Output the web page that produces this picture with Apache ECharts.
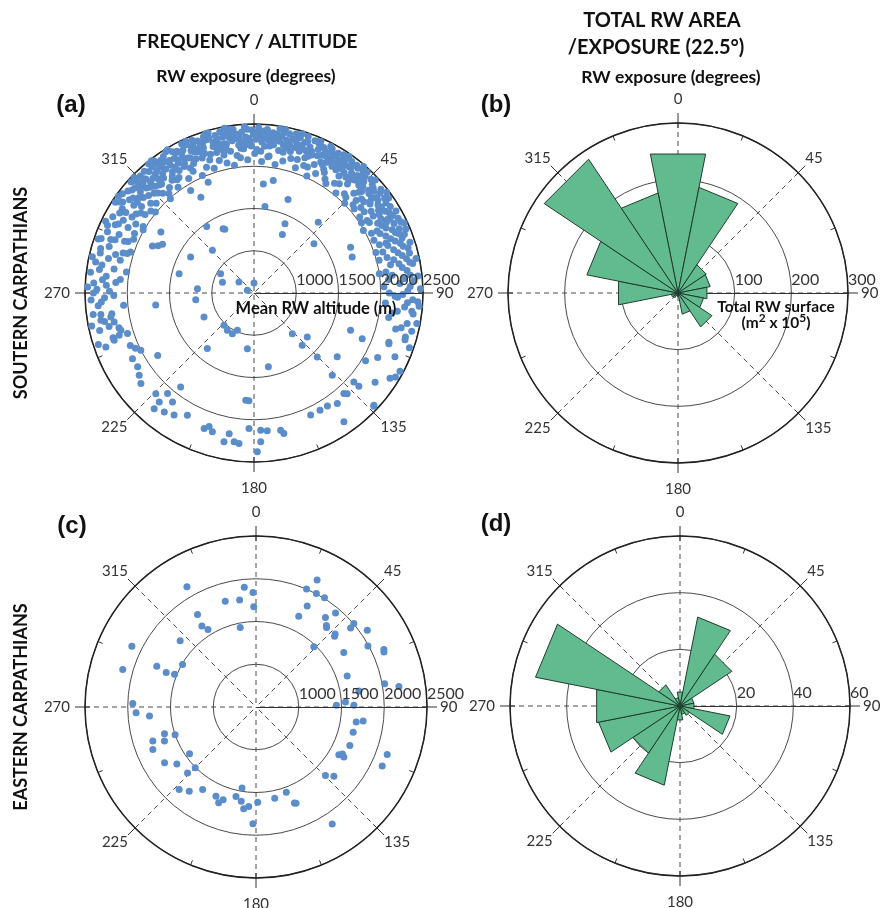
<!DOCTYPE html>
<html>
<head>
<meta charset="utf-8">
<script src="https://cdn.jsdelivr.net/npm/echarts@6/dist/echarts.min.js"></script>
<style>
  html, body { margin: 0; padding: 0; background: #ffffff; }
  #chart { width: 882px; height: 908px; }
</style>
</head>
<body>
<div id="chart"></div>
<script>
// ---------------------------------------------------------------
// Rock-wall (RW) data: exposure (degrees) and mean altitude (m)
// ---------------------------------------------------------------

// Compass directions that carry a label on every rose
const compassTicks = [0, 45, 90, 135, 180, 225, 270, 315];

// Radial scales
const altitudeTicks = [500, 1000, 1500, 2000, 2500];
const southAreaTicks = [0, 100, 200, 300];
const eastAreaTicks = [0, 20, 40, 60];

// Southern Carpathians: individual rock walls [exposure deg, mean altitude m]
const southBandPoints = [
  [290.5,2310],[291.8,2150],[289.6,2420],
  [293.4,2240],[292.7,2380],[294.1,2060],
  [296.2,2330],[297.5,2180],[295.8,2450],
  [299.1,2270],[298.4,2400],[300.3,2120],[299.7,2010],
  [302.6,2350],[301.9,2200],[303.2,2460],[302.1,2290],
  [305.3,2140],[304.7,2390],[306.1,2260],[305.5,2470],
  [308.2,2320],[307.6,2180],[309.0,2420],[308.5,2060],[307.9,2250],
  [311.4,2380],[310.8,2230],[312.1,2460],[311.0,2120],[311.7,2300],
  [314.3,2280],[313.6,2410],[315.0,2170],[314.8,2350],[313.9,2470],
  [317.2,2220],[316.5,2360],[318.0,2440],[317.6,2100],[316.9,2290],
  [320.4,2330],[319.7,2190],[321.1,2420],[320.0,2260],[320.8,2470],[319.5,2050],
  [323.3,2400],[322.6,2280],[324.0,2150],[323.7,2350],[322.9,2460],
  [326.1,2230],[325.5,2380],[326.8,2310],[326.4,2440],[325.8,2120],
  [329.3,2350],[328.6,2200],[330.0,2430],[329.7,2280],[328.9,2480],
  [332.2,2300],[331.5,2410],[333.0,2160],[332.6,2360],[331.8,2240],
  [335.4,2430],[334.7,2270],[336.1,2340],[335.0,2190],[335.8,2470],
  [338.3,2330],[337.6,2400],[339.0,2210],[338.7,2290],[337.9,2450],
  [341.2,2380],[340.5,2250],[342.0,2440],[341.6,2160],[340.8,2320],
  [344.4,2300],[343.7,2410],[345.1,2220],[344.0,2470],[344.8,2350],
  [347.3,2240],[346.6,2380],[348.0,2450],[347.7,2170],[346.9,2310],
  [350.2,2420],[349.5,2290],[351.0,2360],[350.6,2200],[349.8,2480],
  [353.4,2340],[352.7,2450],[354.1,2260],[353.0,2140],[353.8,2390],
  [356.3,2280],[355.6,2410],[357.0,2350],[356.7,2470],[355.9,2210],
  [359.2,2430],[358.5,2300],[359.8,2380],[358.9,2240],
  [2.3,2360],[1.6,2460],[3.0,2290],[2.7,2180],[1.9,2410],
  [5.4,2320],[4.7,2440],[6.1,2250],[5.0,2380],[5.8,2120],
  [8.2,2400],[7.5,2270],[9.0,2470],[8.6,2340],
  [11.3,2280],[10.6,2430],[12.0,2350],[11.7,2200],[10.9,2470],
  [14.1,2380],[13.5,2300],[14.9,2450],[14.4,2230],
  [17.3,2330],[16.6,2420],[18.0,2160],[17.7,2260],[16.9,2470],
  [20.2,2290],[19.5,2400],[21.0,2350],[20.6,2210],
  [23.4,2430],[22.7,2270],[24.1,2360],[23.0,2120],[23.8,2460],
  [26.3,2320],[25.6,2410],[27.0,2240],[26.7,2380],
  [29.1,2270],[28.5,2440],[29.9,2340],[29.4,2180],[28.8,2400],
  [32.3,2370],[31.6,2260],[33.0,2450],[32.7,2310],[31.9,2090],
  [35.2,2300],[34.5,2420],[36.0,2210],[35.6,2360],[34.8,2470],
  [38.4,2250],[37.7,2390],[39.1,2330],[38.0,2140],[38.8,2440],
  [41.3,2350],[40.6,2200],[42.0,2430],[41.7,2290],[40.9,2480],
  [44.2,2280],[43.5,2410],[45.0,2170],[44.6,2350],[43.8,2070],
  [47.4,2400],[46.7,2250],[48.1,2320],[47.0,2460],[47.8,2130],
  [50.3,2190],[49.6,2360],[51.0,2290],[50.7,2440],[49.9,2050],
  [53.2,2330],[52.5,2230],[54.0,2410],[53.6,2120],[52.8,2470],
  [56.4,2270],[55.7,2390],[57.1,2180],[56.0,2320],[56.8,2020],
  [59.3,2360],[58.6,2100],[60.0,2440],[59.7,2240],
  [62.2,2210],[61.5,2330],[63.0,2060],[62.6,2420],[61.8,2280],
  [65.4,2300],[64.7,2150],[66.1,2380],[65.0,2460],
  [68.3,2240],[67.6,2350],[69.0,2090],[68.7,2410],
  [71.2,2330],[70.5,2180],[72.0,2440],[71.6,2020],
  [74.4,2270],[73.7,2400],[75.1,2130],
  [77.3,2350],[76.6,2200],[78.0,2460],
  [80.2,2280],[79.5,2410],[81.0,2080]
];

const southBandPointsInfill = [
  [291.0,2260],[294.8,2410],[297.0,2300],[300.8,2350],[303.8,2180],[304.2,2410],
  [306.8,2340],[307.0,2450],[309.6,2270],[310.2,2390],[312.8,2200],[313.0,2340],
  [315.6,2250],[315.8,2430],[316.0,2380],[318.6,2310],[318.8,2200],[319.2,2400],
  [321.6,2350],[321.8,2230],[322.2,2480],[324.6,2300],[324.8,2420],[325.1,2190],
  [327.4,2360],[327.8,2260],[328.0,2470],[330.6,2310],[330.8,2400],[331.1,2210],
  [333.6,2390],[333.8,2280],[334.1,2460],[336.6,2230],[336.8,2380],[337.2,2310],
  [339.6,2420],[339.8,2350],[340.1,2270],[342.6,2220],[342.8,2400],[343.1,2470],
  [345.6,2330],[345.8,2260],[346.1,2420],[348.6,2380],[348.8,2300],[349.1,2230],
  [351.6,2460],[351.8,2320],[352.1,2400],[354.6,2360],[354.8,2220],[355.1,2300],
  [357.6,2440],[357.8,2260],[358.1,2330],[0.6,2400],[0.8,2320],[1.1,2200],
  [3.6,2420],[3.8,2340],[4.1,2240],[6.6,2290],[6.8,2410],[7.1,2360],
  [9.6,2320],[9.8,2210],[10.1,2390],[12.6,2430],[12.8,2260],[13.1,2330],
  [15.6,2360],[15.8,2290],[16.1,2420],[18.6,2380],[18.8,2300],[19.1,2460],
  [21.6,2240],[21.8,2440],[22.1,2310],[24.6,2400],[24.8,2290],[25.1,2180],
  [27.6,2460],[27.8,2330],[28.1,2220],[30.6,2390],[30.8,2300],[31.1,2430],
  [33.6,2250],[33.8,2400],[34.1,2330],[36.6,2440],[36.8,2280],[37.1,2370],
  [39.6,2300],[39.8,2420],[40.1,2240],[42.6,2380],[42.8,2310],[43.1,2460],
  [45.6,2300],[45.8,2430],[46.1,2220],[48.6,2380],[48.8,2190],[49.1,2300],
  [51.6,2400],[51.8,2250],[52.1,2340],[54.6,2300],[54.8,2450],[55.1,2190],
  [57.6,2410],[57.8,2250],[58.1,2330],[60.6,2180],[60.8,2380],[61.1,2300],
  [63.6,2350],[63.8,2240],[64.1,2430],[66.6,2200],[66.8,2320],[67.1,2450],
  [69.6,2370],[69.8,2280],[72.6,2350],[72.8,2230],[75.6,2400],[75.8,2310],
  [78.6,2250],[78.8,2380],[81.6,2330],[84.6,2280],[87.6,2350],[90.6,2260],
  [93.6,2320],[96.6,2380]
];

// inner fringe of the high band, just around the 2000 m ring
const southBandInnerPoints = [
  [296.5,2080],[301.0,2030],[305.8,2090],[309.4,2010],[312.5,2070],[316.2,2140],
  [318.4,1990],[321.3,2100],[324.3,2040],[327.0,2130],[330.3,2060],[333.4,2110],
  [336.3,2020],[339.3,2090],[342.3,2050],[345.3,2120],[348.3,2070],[351.3,2030],
  [354.3,2110],[357.3,2080],[0.3,2150],[3.3,2060],[6.3,2130],[9.3,2040],
  [12.3,2100],[15.3,2150],[18.3,2060],[21.3,2120],[24.3,2020],[27.3,2090],
  [30.3,2150],[33.3,2050],[36.3,2110],[39.3,2030],[42.3,2090],[45.3,2010],
  [48.3,2070],[51.3,2120],[54.3,2040],[57.3,2090],[60.3,1990],[63.3,2130],
  [66.3,2050],[69.3,2170],[72.3,2100],[75.3,2030],[78.3,2150],[81.3,2000],
  [84.3,2100],[87.3,2040],[91.3,2170],[94.3,2060],[97.3,2210],[100.3,2120],
  [103.3,2290],[275.8,2090],[279.3,2030],[283.8,2130],[287.3,2070],[292.3,2110]
];

const southEastFlankPoints = [
  [83.4,2360],[82.7,2150],[84.1,2450],[86.3,2230],[85.6,2400],
  [89.2,2320],[88.5,2470],[90.0,2100],[92.4,2380],[91.7,2200],[93.1,2440],
  [95.3,2290],[94.6,2460],[98.2,2150],[97.5,2400],[100.6,2460],
  [104.3,2230],[103.6,2420],[107.2,2370],[110.1,2200],[109.4,2450],
  [114.3,2330],[118.2,2460],[117.5,2150],[122.1,2400],[126.4,2280]
];

const southWestFlankPoints = [
  [252.4,2250],[251.7,2440],[256.3,2380],[255.6,2150],[259.2,2300],[258.5,2460],
  [262.4,2420],[261.7,2200],[265.3,2350],[264.6,2050],
  [268.2,2270],[267.5,2430],[269.0,2160],[271.4,2360],[270.7,2210],[272.1,2470],
  [274.3,2140],[273.6,2400],[275.0,2300],[277.2,2450],[276.5,2260],
  [280.4,2330],[279.7,2180],[281.1,2410],[283.3,2270],[282.6,2460],
  [286.2,2390],[285.5,2200],[287.0,2120],[289.1,2450],[288.4,2040],
  [266.6,2310],[270.0,2400],[273.0,2250],[278.6,2350],[284.6,2380],
  [287.8,2300],[262.0,2330],[257.0,2260]
];

const southSouthFacingPoints = [
  [247,2090],[245,2048],[241.6,2135],[237.6,2131],[234.4,2171],[231.3,2215],
  [224.3,2164],[221,2209],[220.7,2069],[216.8,2110],[218,1910],[220.8,2308],
  [217,2264],[213.2,2227],[208.6,2147],[200.2,2209],[198.6,2166],[196.7,2214],
  [191.4,2297],[187.6,2277],[190,2190],[182.1,2105],[177.2,2125],[174.5,2139],
  [169,2154],[168,2199],[177.4,2262],[178.8,2379],[185.7,2289],[155.1,2093],
  [150.6,2091],[147,2095],[143,2138],[145.1,2359],[133.4,2451],[138.2,2096],
  [133.1,2443],[120.7,2447],[110.6,2205],[106.2,2366],[101.3,2348],[121.3,2045],
  [131.6,2160],[131.7,2083],[137.2,2123],
  [252.2,2072],[254.4,2136],[258.3,2190],[259.9,2340],[260.5,2218],[252.6,2172],
  [250,2366],[251.3,2247],[243.2,2001]
];

const southLowPoints = [
  [4.9,1796],[9.7,1851],[20,1678],[7.2,1532],[25.9,1268],[24.1,1398],[42.2,1632],
  [50.6,1418],[64.6,1765],[69.9,1737],[337.5,1919],[328.3,1926],[331,1797],
  [334.3,1343],[335.4,1331],[324.6,1466],[303.2,1817],[294.8,1824],[296.2,1765],
  [298,1726],[299.6,1363],[315.7,1205],[300.1,957],[289,895],[306,720],[0,618],
  [292,585],[284.5,1415],[274.4,1171],[263,1672],[263.5,1194],[244.4,1156],
  [223,1021],[215.5,1043],[204,983],[208,1045],[220,1359],[186.8,1163],[169,1390],
  [184.4,1773],[182.7,1777],[237,1859],[136.7,1161],[137.3,1342],[129.5,1317],
  [135.3,1564],[136.4,1843],[111.1,1725],[112.9,1890],[127.5,1741]
];

// Eastern Carpathians: individual rock walls [exposure deg, mean altitude m]
const eastPoints = [
  [330.1,2121],[354.4,1906],[358.5,1840],[343.8,1789],[351.3,1765],[358.7,1672],
  [327.7,1780],[326.3,1640],[328.2,1566],[348.8,1449],[311.1,1677],[296.1,2117],
  [285.7,2119],[292.3,1754],[291,1625],[291.9,1527],[300,1492],[271.6,1942],
  [267.3,1904],[265.2,1750],[251.7,1771],[247.6,1805],[253.7,1615],[249.6,1642],
  [251.1,1500],[238.6,1753],[234.3,1640],[234.9,1450],[225,1505],[226,1613],
  [223,1818],[218.4,1757],[212.9,1649],[204.2,1643],[201.3,1703],[199.5,1652],
  [192.6,1573],[189.8,1460],[188.9,1615],[186.9,1700],[184.2,1667],[179,1613],
  [181.5,1867],[168.4,1589],[160.4,1557],[158.2,1708],[157.4,1718],[134.6,1641],
  [131.6,1718],[146.9,2132],[120,1619],[119.7,1683],[118.5,1650],[112.3,1686],
  [104.5,1674],[98.5,1685],[97.5,1764],[115.1,2130],[109.9,2132],[88.8,1441],
  [86.8,1548],[89,1645],[81.1,1718],[79.7,2029],[81.8,2189],[71.2,1626],
  [58.2,1708],[48,1736],[47.3,1760],[43.9,1476],[50.1,1942],[49.5,2004],
  [55.4,2081],[61.4,1991],[66.7,2129],[65.8,2140],[40.2,1941],[37.8,1825],
  [41.6,1743],[40.8,1760],[25.2,1674],[26.9,1823],[23.2,2000],[25.7,2148],
  [28,2004],[32.1,2008]
];

// Total rock-wall surface per 22.5 degree exposure class (m2 x 10^5)
const sectorCenters = [0, 22.5, 45, 67.5, 90, 112.5, 135, 157.5, 180, 202.5, 225, 247.5, 270, 292.5, 315, 337.5];
const southArea = [250, 190, 60, 58, 52, 46, 72, 38, 6, 5, 10, 12, 107, 164, 284, 180];
const eastArea  = [5, 32, 22, 5, 5, 18, 4, 3, 5, 28.5, 20, 29.3, 30, 52, 9, 3];

// ---------------------------------------------------------------
// Drawing
// ---------------------------------------------------------------
const FONT = 'Lato, "Open Sans", "DejaVu Sans", sans-serif';
const DOT = '#5b8dcb';
const WEDGE_FILL = '#62bb8e';
const WEDGE_EDGE = '#1e3d2d';

// scaleOnTop: the altitude scale is written over the scatter dots
const panels = [
  { cx: 254, cy: 293, r: 169, ticks: altitudeTicks, scaleOnTop: true },
  { cx: 678, cy: 293, r: 170, ticks: southAreaTicks, scaleOnTop: false },
  { cx: 256, cy: 707, r: 171, ticks: altitudeTicks, scaleOnTop: true },
  { cx: 680, cy: 706, r: 170, ticks: eastAreaTicks, scaleOnTop: false }
];

const labelBase = { fontFamily: FONT, fontSize: 15, color: '#333' };
const compassRich = {
  n: Object.assign({ padding: [0, 0, 6, 0] }, labelBase),
  s: Object.assign({ padding: [9, 0, 0, 0] }, labelBase),
  e: Object.assign({ padding: [0, 0, 0, 3] }, labelBase),
  w: Object.assign({ padding: [0, 5, 0, 0] }, labelBase),
  d: Object.assign({}, labelBase)
};
function compassLabel(v) {
  const key = { 0: 'n', 90: 'e', 180: 's', 270: 'w' }[v] || 'd';
  return '{' + key + '|' + v + '}';
}

const polar = [], angleAxis = [], radiusAxis = [];
panels.forEach(function (p, k) {
  const main = 2 * k, aux = 2 * k + 1;
  const rMin = p.ticks[0], rMax = p.ticks[p.ticks.length - 1];
  const rStep = p.ticks[1] - p.ticks[0];
  const cStep = compassTicks[1] - compassTicks[0];

  polar.push({ center: [p.cx, p.cy], radius: p.r });
  polar.push({ center: [p.cx, p.cy], radius: p.r });

  // main frame: outer circle, dashed compass lines, labelled directions
  angleAxis.push({
    polarIndex: main, type: 'value', min: 0, max: 360, interval: cStep,
    startAngle: 90, clockwise: true,
    axisLine: { show: true, lineStyle: { color: '#222', width: 1.5 } },
    axisTick: { show: true, inside: false, length: 10, lineStyle: { color: '#333', width: 1 } },
    axisLabel: { show: true, margin: 10, formatter: compassLabel, rich: compassRich },
    splitLine: { show: true, lineStyle: { color: '#4a4a4a', width: 1, type: [5, 4] } },
    splitArea: { show: false }
  });
  radiusAxis.push({
    polarIndex: main, type: 'value', min: rMin, max: rMax, interval: rStep,
    axisLine: { show: false }, axisTick: { show: false }, axisLabel: { show: false },
    splitLine: { show: true, lineStyle: { color: '#4a4a4a', width: 1 } },
    splitArea: { show: false }
  });

  // secondary frame: short inner ticks every half class and the eastward scale line
  angleAxis.push({
    polarIndex: aux, type: 'value', min: 0, max: 360, interval: cStep / 2,
    startAngle: 0, clockwise: true,
    axisLine: { show: false },
    axisTick: { show: true, inside: true, length: 5, lineStyle: { color: '#333', width: 1 } },
    axisLabel: { show: false },
    splitLine: { show: false }, splitArea: { show: false }
  });
  radiusAxis.push({
    polarIndex: aux, type: 'value', min: rMin, max: rMax, interval: rStep,
    z: p.scaleOnTop ? 5 : 0,
    axisLine: { show: true, lineStyle: { color: '#333', width: 1 } },
    axisTick: { show: false },
    axisLabel: {
      show: true, showMinLabel: false, align: 'left', margin: 5,
      fontFamily: FONT, fontSize: 16, color: '#333',
      formatter: function (v) { return String(v); }
    },
    splitLine: { show: false }, splitArea: { show: false }
  });
});

function toPolar(list) {
  return list.map(function (d) { return [d[1], d[0]]; });
}
const southPoints = [].concat(southBandPoints, southBandPointsInfill, southBandInnerPoints,
                              southEastFlankPoints, southWestFlankPoints,
                              southSouthFacingPoints, southLowPoints);

const halfClass = (sectorCenters[1] - sectorCenters[0]) / 2;
function wedgeItem(params, api) {
  const v = api.value(0), a = api.value(1);
  const o = api.coord([0, a]);
  const p1 = api.coord([v, a - halfClass]);
  const p2 = api.coord([v, a + halfClass]);
  return {
    type: 'polygon',
    shape: { points: [o, p1, p2] },
    style: { fill: WEDGE_FILL, stroke: WEDGE_EDGE, lineWidth: 1 }
  };
}
function roseData(values) {
  return values.map(function (v, i) { return [v, sectorCenters[i]]; });
}

const series = [
  {
    type: 'scatter', coordinateSystem: 'polar', polarIndex: 0,
    symbol: 'circle', symbolSize: 7, itemStyle: { color: DOT, opacity: 1 },
    data: toPolar(southPoints), silent: true, animation: false
  },
  {
    type: 'custom', coordinateSystem: 'polar', polarIndex: 2,
    renderItem: wedgeItem, data: roseData(southArea), silent: true, animation: false
  },
  {
    type: 'scatter', coordinateSystem: 'polar', polarIndex: 4,
    symbol: 'circle', symbolSize: 7, itemStyle: { color: DOT, opacity: 1 },
    data: toPolar(eastPoints), silent: true, animation: false
  },
  {
    type: 'custom', coordinateSystem: 'polar', polarIndex: 6,
    renderItem: wedgeItem, data: roseData(eastArea), silent: true, animation: false
  }
];

function caption(text, x, y, size, opts) {
  opts = opts || {};
  return {
    type: 'text', x: x, y: y, rotation: opts.rotation || 0, z: 100,
    style: {
      text: text,
      fontFamily: opts.family || FONT, fontSize: size,
      fontWeight: opts.weight || 'bold',
      fill: opts.color || '#111',
      align: 'center', verticalAlign: 'middle',
      textAlign: 'center', textVerticalAlign: 'middle',
      rich: opts.rich
    }
  };
}

const LETTER_FONT = '"Liberation Sans", Arial, sans-serif';
const graphic = [
  caption('FREQUENCY / ALTITUDE', 247, 42, 19),
  caption('RW exposure (degrees)', 246, 76, 17.5),
  caption('TOTAL RW AREA', 662, 21, 20),
  caption('/EXPOSURE (22.5\u00B0)', 656, 48, 20),
  caption('RW exposure (degrees)', 671, 77, 17.5),
  caption('(a)', 71, 105, 24, { family: LETTER_FONT }),
  caption('(b)', 496, 105, 24, { family: LETTER_FONT }),
  caption('(c)', 72, 526, 24, { family: LETTER_FONT }),
  caption('(d)', 496, 524, 24, { family: LETTER_FONT }),
  caption('SOUTERN CARPATHIANS', 21, 293, 18, { rotation: Math.PI / 2 }),
  caption('EASTERN CARPATHIANS', 21, 707, 18, { rotation: Math.PI / 2 }),
  caption('Mean RW altitude (m)', 316, 309, 16.5),
  caption('Total RW surface', 776, 307, 15.5),
  caption('{t|(m}{s|2}{t| x 10}{s|5}{t|)}', 776, 323, 15.5, {
    rich: {
      t: { fontFamily: FONT, fontSize: 15.5, fontWeight: 'bold', fill: '#111', lineHeight: 22 },
      s: { fontFamily: FONT, fontSize: 12, fontWeight: 'bold', fill: '#111', verticalAlign: 'top' }
    }
  })
];

const chart = echarts.init(document.getElementById('chart'), null, { renderer: 'canvas' });
chart.setOption({
  backgroundColor: '#ffffff',
  animation: false,
  polar: polar,
  angleAxis: angleAxis,
  radiusAxis: radiusAxis,
  series: series,
  graphic: graphic
});
</script>
</body>
</html>
